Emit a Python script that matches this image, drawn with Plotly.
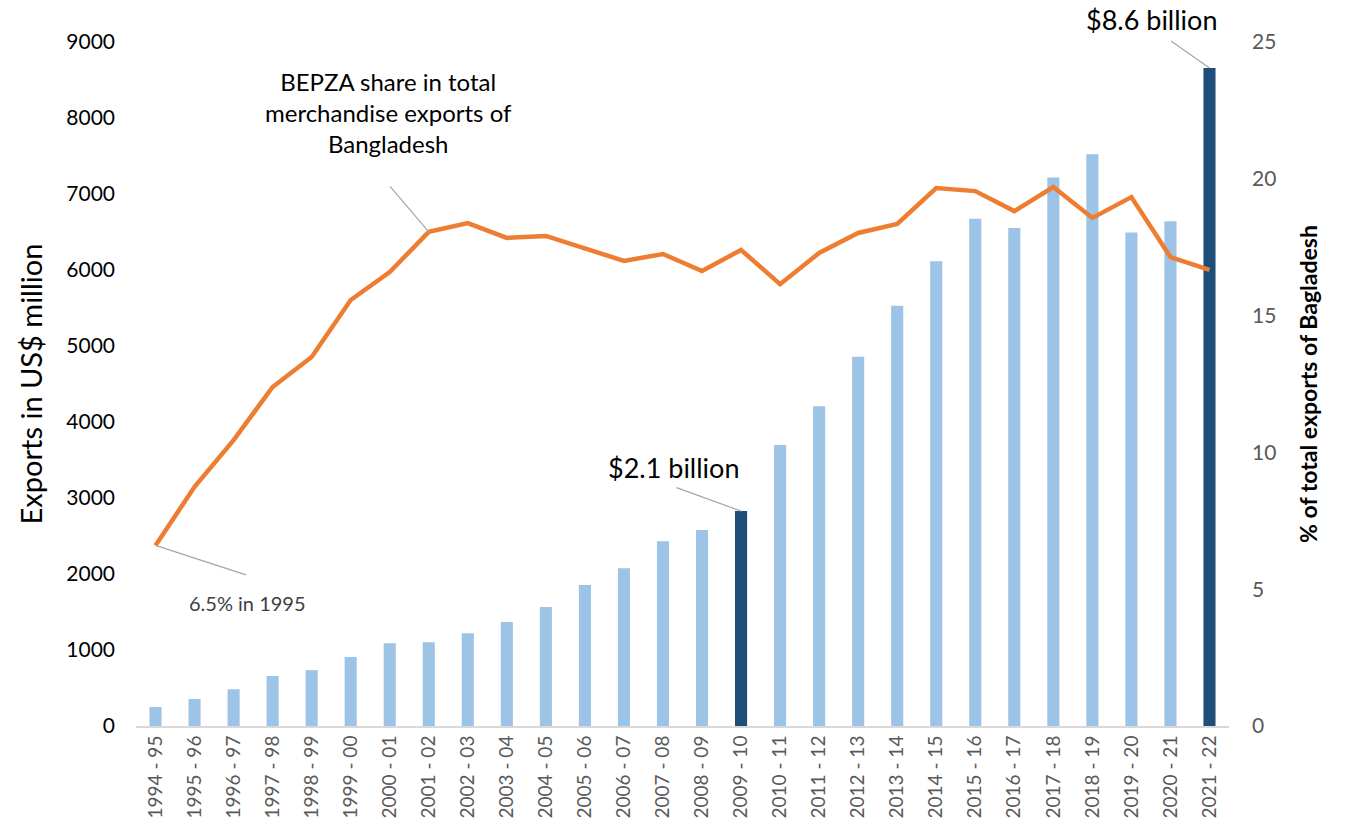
import plotly.graph_objects as go

years = ["1994 - 95", "1995 - 96", "1996 - 97", "1997 - 98", "1998 - 99", "1999 - 00",
         "2000 - 01", "2001 - 02", "2002 - 03", "2003 - 04", "2004 - 05", "2005 - 06",
         "2006 - 07", "2007 - 08", "2008 - 09", "2009 - 10", "2010 - 11", "2011 - 12",
         "2012 - 13", "2013 - 14", "2014 - 15", "2015 - 16", "2016 - 17", "2017 - 18",
         "2018 - 19", "2019 - 20", "2020 - 21", "2021 - 22"]

exports_musd = [250, 355, 484, 658, 735, 908, 1088, 1103, 1222, 1370, 1566, 1855,
                2075, 2430, 2579, 2828, 3696, 4208, 4858, 5529, 6114, 6675,
                6551, 7217, 7524, 6492, 6641, 8658]

share_pct = [6.6, 8.74, 10.45, 12.39, 13.49, 15.57, 16.59, 18.06, 18.38, 17.84, 17.91, 17.47,
             17.0, 17.25, 16.63, 17.4, 16.15, 17.29, 18.02, 18.35, 19.66, 19.55,
             18.82, 19.7, 18.57, 19.33, 17.14, 16.67]

highlight = ["2009 - 10", "2021 - 22"]

LIGHT = "#9DC3E6"
DARK = "#1F4E79"
ORANGE = "#ED7D31"
CAL = "Lato, Carlito, Calibri, sans-serif"

bar_colors = [DARK if y in highlight else LIGHT for y in years]

fig = go.Figure()
fig.add_trace(go.Bar(x=years, y=exports_musd, marker=dict(color=bar_colors, line=dict(width=0)),
                     width=0.31, yaxis="y", showlegend=False))
fig.add_trace(go.Scatter(x=years, y=share_pct, mode="lines", yaxis="y2",
                         line=dict(color=ORANGE, width=4.5), showlegend=False))

fig.update_layout(
    width=1347, height=835,
    margin=dict(l=136, r=118, t=42, b=109),
    paper_bgcolor="white", plot_bgcolor="white",
    xaxis=dict(type="category", range=[-0.5, 27.5], showline=True, linecolor="#d9d9d9",
               linewidth=2, showgrid=False, ticks="", tickangle=-90,
               tickfont=dict(family=CAL, size=19, color="#595959")),
    yaxis=dict(range=[0, 9000], dtick=1000, showgrid=False, zeroline=False, ticks="",
               ticklabelstandoff=20,
               tickfont=dict(family=CAL, size=21, color="#000000"),
               title=dict(text="Exports in US$ million", standoff=15,
                          font=dict(family=CAL, size=29, color="#000000"))),
    yaxis2=dict(range=[0, 25], dtick=5, overlaying="y", side="right", showgrid=False,
                zeroline=False, ticks="", ticklabelstandoff=22,
                tickfont=dict(family=CAL, size=21, color="#595959"),
                title=dict(text="<b>% of total exports of Bagladesh</b>", standoff=25,
                           font=dict(family=CAL, size=23, color="#000000"))),
    bargap=0.69,
)

line_col = "#a6a6a6"

# $8.6 billion
fig.add_annotation(x="2021 - 22", y=8658, xref="x", yref="y", text="$8.6 billion",
                   showarrow=False, xshift=-58, yshift=48,
                   font=dict(family=CAL, size=27, color="#000000"))
fig.add_annotation(x="2021 - 22", y=8658, xref="x", yref="y", text="",
                   showarrow=True, arrowhead=0, arrowwidth=1.2, arrowcolor=line_col,
                   ax=-40, ay=-28, standoff=0)

# $2.1 billion
fig.add_annotation(x="2009 - 10", y=2828, xref="x", yref="y", text="$2.1 billion",
                   showarrow=False, xshift=-68, yshift=44,
                   font=dict(family=CAL, size=27, color="#000000"))
fig.add_annotation(x="2009 - 10", y=2828, xref="x", yref="y", text="",
                   showarrow=True, arrowhead=0, arrowwidth=1.2, arrowcolor=line_col,
                   ax=-66, ay=-24, standoff=0)

# BEPZA label
fig.add_annotation(x="2001 - 02", y=18.06, xref="x", yref="y2",
                   text="BEPZA share in total<br>merchandise exports of<br>Bangladesh",
                   showarrow=False, xshift=-40, yshift=119, align="center",
                   font=dict(family=CAL, size=24, color="#000000"))
fig.add_annotation(x="2001 - 02", y=18.06, xref="x", yref="y2", text="",
                   showarrow=True, arrowhead=0, arrowwidth=1.2, arrowcolor=line_col,
                   ax=-40, ay=-47, standoff=0)

# 6.5% in 1995
fig.add_annotation(x="1994 - 95", y=6.6, xref="x", yref="y2", text="6.5% in 1995",
                   showarrow=False, xshift=92, yshift=-58,
                   font=dict(family=CAL, size=20, color="#404040"))
fig.add_annotation(x="1994 - 95", y=6.6, xref="x", yref="y2", text="",
                   showarrow=True, arrowhead=0, arrowwidth=1.2, arrowcolor=line_col,
                   ax=92, ay=30, standoff=0)

fig.write_html("out.html")
